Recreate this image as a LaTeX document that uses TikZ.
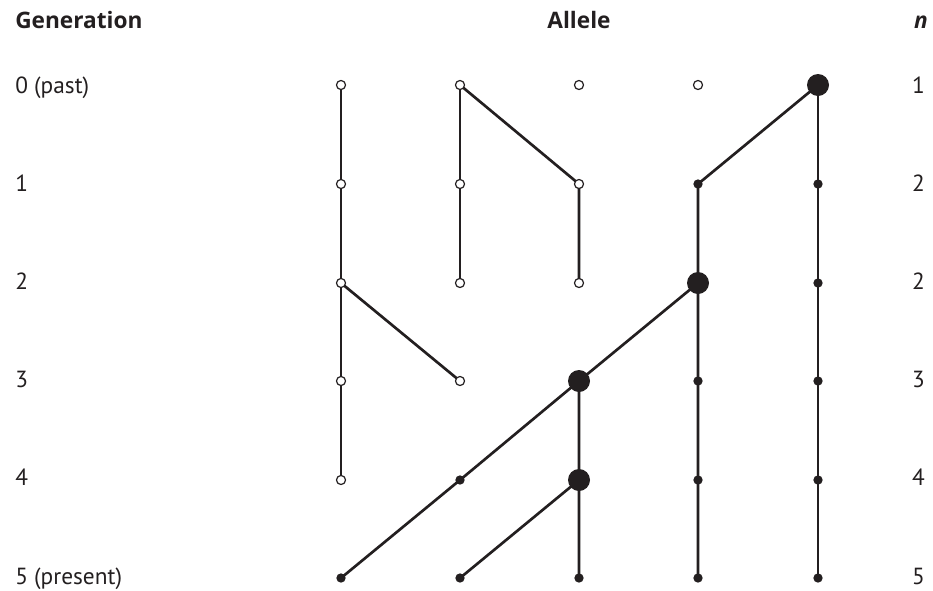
\documentclass[tikz,border=0pt]{standalone}
\usepackage{fontspec}
\setmainfont{PT Sans}
\newfontfamily\headfont{Open Sans}
\definecolor{ink}{HTML}{231F20}
\begin{document}
\begin{tikzpicture}[x=0.75pt,y=-0.75pt,
  every node/.style={font=\fontsize{17.5}{20}\selectfont, text=ink},
  link/.style={draw=ink, line width=2pt},
  openpt/.style={circle, draw=ink, fill=white, line width=0.9pt, minimum size=6.8pt, inner sep=0pt},
  dotpt/.style={circle, fill=ink, minimum size=7pt, inner sep=0pt},
  bigpt/.style={circle, fill=ink, minimum size=16.5pt, inner sep=0pt},
  rowlab/.style={anchor=base west, inner sep=0pt},
  nlab/.style={anchor=base east, inner sep=0pt},
  head/.style={anchor=base, inner sep=0pt, font=\headfont\fontsize{17}{20}\selectfont\bfseries}]
\useasboundingbox (0,0) rectangle (933,590);

% headers
\node[head, anchor=base west] (hgen) at (15,28) {Generation};
\node[head] (hall) at (579,28) {Allele};
\node[head, anchor=base east] (hn) at (928,28) {\itshape n};

% generation labels and counts
\foreach \g/\t/\n in {0/0 (past)/1, 1/1/2, 2/2/2, 3/3/3, 4/4/4, 5/5 (present)/5}{
  \node[rowlab] (g\g) at (15,93+98.2*\g) {\t};
  \node[nlab] (n\g) at (925,93+98.2*\g) {\n};
}

% coordinates of the lineage points: column a..e, generation 0..5
\foreach \c/\x in {a/341,b/460,c/579,d/698,e/818}{
  \foreach \g/\y in {0/85,1/184,2/283,3/381,4/480,5/578}{
    \coordinate (\c\g) at (\x,\y);
  }
}

% lost lineages
\draw[link] (a0) -- (a4);
\draw[link] (a2) -- (b3);
\draw[link] (b0) -- (b2);
\draw[link] (b0) -- (c1) -- (c2);

% surviving lineages
\draw[link] (e0) -- (e5);
\draw[link] (e0) -- (d1) -- (d5);
\draw[link] (d2) -- (c3) -- (c5);
\draw[link] (c3) -- (b4) -- (a5);
\draw[link] (c4) -- (b5);

% open points
\foreach \p in {a0,a1,a2,a3,a4,b0,b1,b2,b3,c0,c1,c2,d0}
  \node[openpt] (o\p) at (\p) {};
% small filled points
\foreach \p in {e1,e2,e3,e4,e5,d1,d3,d4,d5,c5,b4,b5,a5}
  \node[dotpt] (f\p) at (\p) {};
% large filled points
\foreach \p in {e0,d2,c3,c4}
  \node[bigpt] (m\p) at (\p) {};
\end{tikzpicture}
\end{document}
